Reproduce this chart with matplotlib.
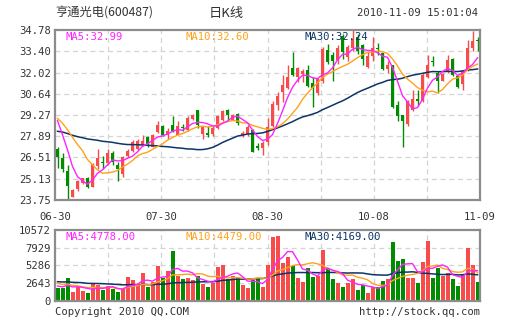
import matplotlib
matplotlib.use("Agg")
import matplotlib.pyplot as plt
import numpy as np

# ---- data ----
date_labels = ["06-30", "07-30", "08-30", "10-08", "11-09"]
price_ticks = [23.75, 25.13, 26.51, 27.89, 29.27, 30.64, 32.02, 33.40, 34.78]
vol_ticks = [0, 2643, 5286, 7929, 10572]
price_ma_text = ["MA5:32.99", "MA10:32.60", "MA30:32.24"]
vol_ma_text = ["MA5:4778.00", "MA10:4479.00", "MA30:4169.00"]

opens = [27.04, 26.50, 25.63, 23.97, 24.48, 24.83, 25.18, 24.62, 25.96, 26.19,
         26.13, 26.78, 26.02, 25.44, 26.61, 26.95, 27.06, 27.32, 27.82, 27.21,
         28.18, 28.55, 27.95, 28.64, 27.99, 28.47, 28.31, 29.03, 29.59, 28.03,
         28.10, 28.03, 28.42, 28.96, 29.59, 28.96, 29.33, 27.95, 28.03, 28.31,
         27.23, 27.12, 27.50, 28.55, 29.91, 30.78, 30.99, 32.29, 31.75, 31.93,
         32.18, 31.32, 30.71, 31.45, 33.50, 33.15, 32.85, 34.40, 33.00, 33.60,
         34.30, 33.80, 32.40, 33.07, 33.61, 33.29, 32.27, 32.53, 29.94, 29.24,
         28.68, 29.61, 30.30, 30.19, 31.71, 32.79, 31.99, 31.49, 32.10, 32.90,
         31.77, 31.28, 32.21, 33.61, 34.15]
highs = [27.21, 26.78, 26.02, 24.44, 25.05, 25.20, 25.26, 26.13, 27.06, 26.63,
         27.06, 26.93, 26.19, 26.61, 27.06, 27.64, 27.69, 27.97, 27.90, 28.01,
         28.88, 28.62, 28.42, 29.22, 28.85, 28.68, 29.18, 29.35, 29.59, 28.51,
         28.57, 28.53, 29.24, 29.61, 29.68, 29.33, 29.39, 28.25, 28.64, 28.36,
         27.45, 27.60, 29.06, 30.20, 30.78, 31.86, 32.51, 33.37, 32.40, 32.23,
         32.51, 31.75, 31.64, 33.70, 33.90, 33.35, 33.80, 34.50, 33.80, 34.78,
         34.50, 33.90, 33.40, 34.30, 33.94, 33.30, 32.75, 32.53, 30.15, 29.24,
         30.26, 30.91, 30.91, 31.99, 33.18, 33.07, 32.10, 31.99, 33.18, 32.96,
         31.88, 32.21, 34.15, 34.74, 34.30]
lows = [25.80, 25.59, 23.81, 23.92, 24.36, 24.77, 24.55, 24.57, 25.76, 25.76,
        26.02, 26.02, 25.00, 25.26, 26.52, 26.89, 26.99, 27.28, 27.17, 27.17,
        28.08, 27.92, 27.73, 28.16, 27.95, 28.21, 28.25, 28.96, 28.42, 27.73,
        27.84, 27.88, 28.38, 28.90, 28.96, 28.92, 28.64, 27.82, 27.88, 26.86,
        26.97, 26.69, 27.33, 28.51, 29.59, 30.13, 30.93, 31.80, 31.43, 31.43,
        31.10, 29.76, 30.56, 31.35, 32.55, 31.45, 32.60, 32.90, 32.80, 33.40,
        33.20, 32.50, 32.30, 32.75, 33.18, 32.20, 31.99, 29.72, 28.85, 27.17,
        28.53, 29.55, 29.83, 30.11, 31.67, 32.42, 30.69, 31.45, 31.99, 31.82,
        31.02, 30.91, 32.14, 33.40, 33.40]
closes = [26.52, 25.76, 24.66, 24.40, 24.98, 25.20, 24.62, 26.09, 26.50, 26.15,
          26.78, 26.22, 25.78, 26.56, 26.93, 27.49, 27.60, 27.60, 27.38, 27.97,
          28.62, 27.97, 28.21, 28.25, 28.53, 28.42, 29.07, 29.29, 28.64, 28.47,
          27.99, 28.42, 29.18, 29.55, 29.24, 29.24, 28.75, 28.10, 28.49, 26.89,
          27.12, 27.45, 28.50, 29.98, 30.50, 31.21, 31.75, 31.86, 32.29, 32.12,
          31.15, 30.99, 31.58, 33.55, 32.70, 32.80, 33.60, 33.35, 33.70, 34.20,
          33.40, 32.90, 33.10, 33.61, 33.53, 32.27, 32.53, 29.78, 29.18, 28.85,
          30.19, 30.32, 30.19, 31.88, 32.49, 32.70, 31.45, 31.93, 32.86, 31.88,
          31.06, 32.10, 33.61, 34.05, 34.05]
volumes = [1900, 1900, 3350, 1250, 2050, 1400, 1150, 2600, 2400, 1550,
           2200, 1800, 1300, 1700, 3550, 3050, 2550, 4150, 2050, 2850,
           5200, 3450, 4400, 7400, 3700, 3200, 3450, 3050, 3700, 2450,
           2000, 2600, 5050, 5300, 3300, 3700, 3400, 2350, 1900, 3150,
           3350, 2050, 5340, 9500, 9700, 5700, 6500, 5240, 3390, 2840,
           4940, 3590, 3690, 7580, 4690, 3240, 2690, 2090, 2690, 3190,
           1600, 2290, 1200, 2050, 2090, 2940, 3240, 8780, 5930, 6230,
           3390, 3390, 2690, 5790, 8930, 3390, 4940, 3690, 4190, 3240,
           2240, 4040, 7930, 5390, 2840]

# sessions before the visible window (only feed the moving averages)
prior_closes = [27.2, 27.5, 27.9, 27.6, 27.3, 27.0, 27.4, 27.8, 28.1, 27.7,
                27.4, 27.6, 28.0, 27.9, 27.6, 27.9, 28.1, 27.9, 28.6, 29.2,
                29.0, 28.8, 29.4, 29.6, 29.2, 30.4, 29.5, 29.8, 28.3]
prior_volumes = [3200, 2600, 3500, 2800, 2400, 3900, 3100, 2700, 2300, 3300,
                 2900, 2600, 3400, 3000, 2500, 3100, 2800, 3300, 2700, 3200,
                 3400, 2800, 3300, 2600, 2850, 2500, 2200, 2450, 1900]

RED = "#f84c4c"
GREEN = "#008c00"
C_MA5 = "#ff22ff"
C_MA10 = "#ffa21a"
C_MA30 = "#0d3466"
GRID = "#d4d4d4"
FRAME = "#8c8c8c"
TXT = "#333333"
MONO = ["DejaVu Sans Mono", "Noto Sans CJK SC"]


def moving_avg(hist, vals, n):
    s = np.array(hist + vals, dtype=float)
    out = np.convolve(s, np.ones(n) / n, mode="valid")
    return out[-len(vals):]


n = len(closes)
x = np.arange(n)
up = [c >= o for o, c in zip(opens, closes)]
cols = [RED if u else GREEN for u in up]

fig = plt.figure(figsize=(5.05, 3.30), dpi=100)
ax = fig.add_axes([55 / 505, 1 - 200 / 330, 425 / 505, 170 / 330])
axv = fig.add_axes([55 / 505, 1 - 300.7 / 330, 425 / 505, 70.7 / 330])

# vertical grid positions (8 equal sections)
vgrid = [-0.5 + n * j / 8 for j in range(9)]

for a in (ax, axv):
    a.set_xlim(-0.5, n - 0.5)
    for xv in vgrid[1:-1]:
        a.axvline(xv, color=GRID, lw=0.9, ls=(0, (4, 3)), zorder=0)
    for sp in a.spines.values():
        sp.set_color(FRAME)
        sp.set_linewidth(1.6)
    a.tick_params(length=0, colors=TXT, labelsize=7.6, pad=3)

# ---- price panel ----
ax.set_ylim(price_ticks[0], price_ticks[-1])
for yv in price_ticks[1:-1]:
    ax.axhline(yv, color=GRID, lw=0.9, ls=(0, (4, 3)), zorder=0)

body_bottom = [min(o, c) for o, c in zip(opens, closes)]
body_h = [max(abs(c - o), 0.05) for o, c in zip(opens, closes)]
ax.vlines(x, lows, highs, colors=cols, lw=1.0, zorder=2)
ax.bar(x, body_h, bottom=body_bottom, width=0.74, color=cols, lw=0, zorder=3)

ma5 = moving_avg(prior_closes, closes, 5)
ma10 = moving_avg(prior_closes, closes, 10)
ma30 = moving_avg(prior_closes, closes, 30)
ax.plot(x, ma30, color=C_MA30, lw=1.1, zorder=4)
ax.plot(x, ma10, color=C_MA10, lw=1.0, zorder=4)
ax.plot(x, ma5, color=C_MA5, lw=1.0, zorder=5)

ax.set_yticks(price_ticks)
ax.set_yticklabels([f"{v:.2f}" for v in price_ticks], family=MONO)
ax.set_xticks([vgrid[0], vgrid[2], vgrid[4], vgrid[6], vgrid[8]])
ax.set_xticklabels(date_labels, family=MONO)
ax.tick_params(axis="x", pad=9)

for txt, xpos, c in zip(price_ma_text, [0.024, 0.306, 0.588], [C_MA5, C_MA10, C_MA30]):
    ax.text(xpos, 0.96, txt, transform=ax.transAxes, color=c,
            family=MONO, fontsize=7.6, va="center", zorder=6)

# ---- volume panel ----
axv.set_ylim(vol_ticks[0], vol_ticks[-1])
for yv in vol_ticks[1:-1]:
    axv.axhline(yv, color=GRID, lw=0.9, ls=(0, (4, 3)), zorder=0)
axv.bar(x, volumes, width=0.8, color=cols, lw=0, zorder=2)

vma5 = moving_avg(prior_volumes, volumes, 5)
vma10 = moving_avg(prior_volumes, volumes, 10)
vma30 = moving_avg(prior_volumes, volumes, 30)
axv.plot(x, vma30, color=C_MA30, lw=1.1, zorder=4)
axv.plot(x, vma10, color=C_MA10, lw=1.0, zorder=4)
axv.plot(x, vma5, color=C_MA5, lw=1.0, zorder=5)

axv.set_yticks(vol_ticks)
axv.set_yticklabels([str(v) for v in vol_ticks], family=MONO)
axv.set_xticks([])

for txt, xpos, c in zip(vol_ma_text, [0.024, 0.306, 0.588], [C_MA5, C_MA10, C_MA30]):
    axv.text(xpos, 0.9, txt, transform=axv.transAxes, color=c,
             family=MONO, fontsize=7.6, va="center", zorder=6)

# ---- header / footer ----
fig.text(55 / 505, 1 - 13 / 330, "亨通光电(600487)", family=["Noto Sans CJK SC", "DejaVu Sans Mono"],
         fontsize=8.8, color=TXT, va="center", ha="left")
fig.text(226 / 505, 1 - 13 / 330, "日K线", family=["Noto Sans CJK SC", "DejaVu Sans"],
         fontsize=9.5, color=TXT, va="center", ha="center")
fig.text(478 / 505, 1 - 13 / 330, "2010-11-09 15:01:04", family=MONO,
         fontsize=7.6, color=TXT, va="center", ha="right")
fig.text(55 / 505, 1 - 312 / 330, "Copyright 2010 QQ.COM", family=MONO,
         fontsize=7.6, color=TXT, va="center", ha="left")
fig.text(480 / 505, 1 - 312 / 330, "http://stock.qq.com", family=MONO,
         fontsize=7.6, color=TXT, va="center", ha="right")

fig.savefig("out.png", dpi=100)
